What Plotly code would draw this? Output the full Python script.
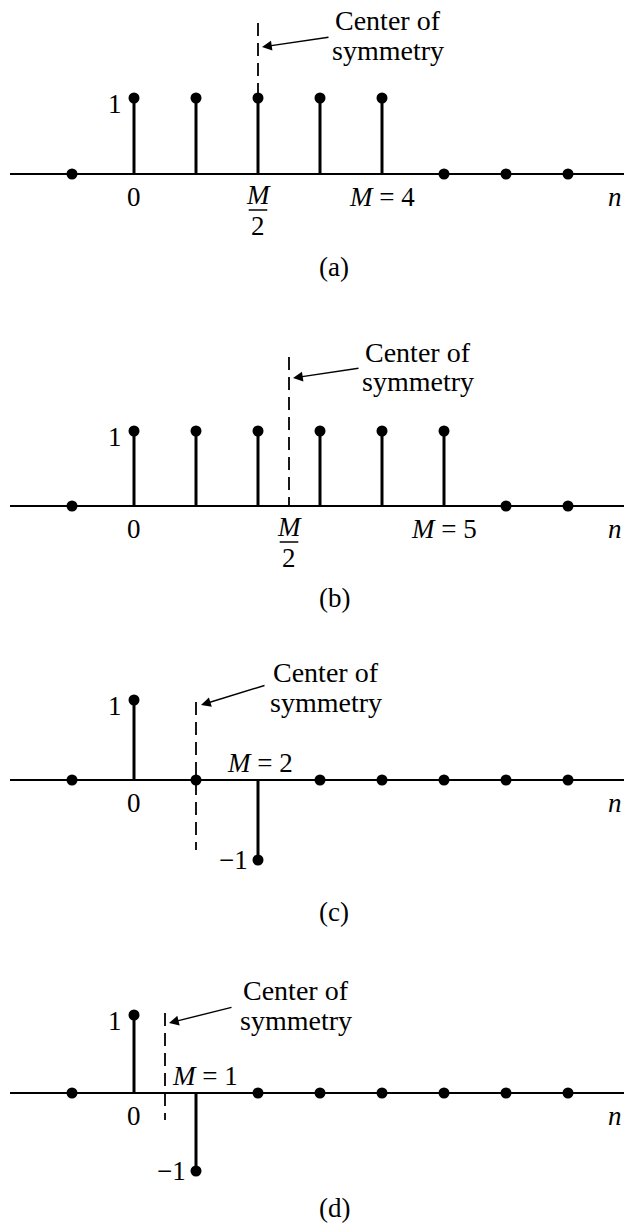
import plotly.graph_objects as go

# ---------------- data ----------------
n_vals = [-1, 0, 1, 2, 3, 4, 5, 6, 7]
h_a = [0, 1, 1, 1, 1, 1, 0, 0, 0]
h_b = [0, 1, 1, 1, 1, 1, 1, 0, 0]
h_c = [0, 1, 0, -1, 0, 0, 0, 0, 0]
h_d = [0, 1, -1, 0, 0, 0, 0, 0, 0]
M_vals = [4, 5, 2, 1]
panel_labels = ["(a)", "(b)", "(c)", "(d)"]
series = [h_a, h_b, h_c, h_d]

# ---------------- layout geometry (pixels) ----------------
W, H = 624, 1226
bands = [(0, 300), (300, 610), (610, 920), (920, 1226)]
axis_px = [174, 506, 780, 1093]
unit_px = [76, 75, 80, 78]
X0PX, XUNIT = 134, 62

def dx(px):
    return (px - X0PX) / XUNIT

def dy(i, py):
    return (axis_px[i] - py) / unit_px[i]

FONT = "Liberation Serif"
FS = 27

fig = go.Figure()
layout = dict(width=W, height=H, margin=dict(l=0, r=0, t=0, b=0),
              paper_bgcolor="white", plot_bgcolor="white", showlegend=False)
shapes = []
annots = []

for i, h in enumerate(series):
    k = "" if i == 0 else str(i + 1)
    xa, ya = "x" + k, "y" + k
    top, bot = bands[i]
    layout["xaxis" + k] = dict(domain=[0, 1], range=[dx(0), dx(W)], visible=False,
                               anchor=ya, fixedrange=True)
    layout["yaxis" + k] = dict(domain=[1 - bot / H, 1 - top / H],
                               range=[dy(i, bot), dy(i, top)], visible=False,
                               anchor=xa, fixedrange=True)
    # horizontal axis line
    shapes.append(dict(type="line", xref=xa, yref=ya, x0=dx(10), x1=dx(W), y0=0, y1=0,
                       line=dict(color="black", width=2)))
    # stems
    sx, sy = [], []
    for n, v in zip(n_vals, h):
        if v != 0:
            sx += [n, n, None]
            sy += [0, v, None]
    fig.add_trace(go.Scatter(x=sx, y=sy, mode="lines", xaxis=xa, yaxis=ya,
                             line=dict(color="black", width=3), hoverinfo="skip"))
    fig.add_trace(go.Scatter(x=n_vals, y=h, mode="markers", xaxis=xa, yaxis=ya,
                             marker=dict(color="black", size=11), hoverinfo="skip"))
    M = M_vals[i]
    c = M / 2
    # center-of-symmetry dashed line
    dash_ranges = [(23, 174), (357, 506), (702, 850), (1013, 1120)]
    y_top, y_bot = dash_ranges[i]
    shapes.append(dict(type="line", xref=xa, yref=ya, x0=c, x1=c,
                       y0=dy(i, y_top), y1=dy(i, y_bot),
                       line=dict(color="black", width=1.8, dash="13px,7px")))
    # text "Center of symmetry"
    txt_pos = [(388, 20, 50), (418, 352, 381), (326, 672, 702), (296, 990, 1020)]
    tx, ty1, ty2 = txt_pos[i]
    for t, ty in (("Center of", ty1), ("symmetry", ty2)):
        annots.append(dict(text=t, x=dx(tx), y=dy(i, ty), xref=xa, yref=ya,
                           showarrow=False, xanchor="center", yanchor="middle",
                           font=dict(family=FONT, size=28, color="black")))
    # arrow
    arrows = [((330, 37), (262, 47)), ((360, 368), (293, 378)),
              ((266, 685), (201, 705)), ((233, 1007), (169, 1023))]
    (tlx, tly), (hx, hy) = arrows[i]
    annots.append(dict(text="", x=dx(hx), y=dy(i, hy), ax=dx(tlx), ay=dy(i, tly),
                       xref=xa, yref=ya, axref=xa, ayref=ya, showarrow=True,
                       arrowhead=2, arrowsize=1.4, arrowwidth=1.4, arrowcolor="black"))
    # labels
    def lab(t, x, y, xanchor="center", size=FS):
        annots.append(dict(text=t, x=x, y=y, xref=xa, yref=ya, showarrow=False,
                           xanchor=xanchor, yanchor="middle",
                           font=dict(family=FONT, size=size, color="black")))
    ax_y = axis_px[i]
    lab("0", 0, dy(i, ax_y + 23))
    lab("1", dx(124), dy(i, ax_y - unit_px[i] + 6), xanchor="right")
    lab("<i>n</i>", dx(624), dy(i, ax_y + 23), xanchor="right")
    if i < 2:
        lab("<i>M</i>", c, dy(i, ax_y + 21))
        shapes.append(dict(type="line", xref=xa, yref=ya, x0=c - 0.15, x1=c + 0.15,
                           y0=dy(i, ax_y + 36), y1=dy(i, ax_y + 36),
                           line=dict(color="black", width=1.5)))
        lab("2", c, dy(i, ax_y + 52))
        lab("<i>M</i> = %d" % M, M, dy(i, ax_y + 23))
    else:
        mx = [260, 205][i - 2]
        lab("<i>M</i> = %d" % M, dx(mx), dy(i, ax_y - 17))
        neg_n = n_vals[h.index(-1)]
        lab("\u22121", neg_n - 0.13, -1.0, xanchor="right")
    lab(panel_labels[i], dx(334), dy(i, [267, 598, 912, 1208][i]))

layout["shapes"] = shapes
layout["annotations"] = annots
fig.update_layout(**layout)
fig.write_html("out.html", config={"displayModeBar": False},
               post_script="document.body.style.margin='0';document.body.style.overflow='hidden';")
